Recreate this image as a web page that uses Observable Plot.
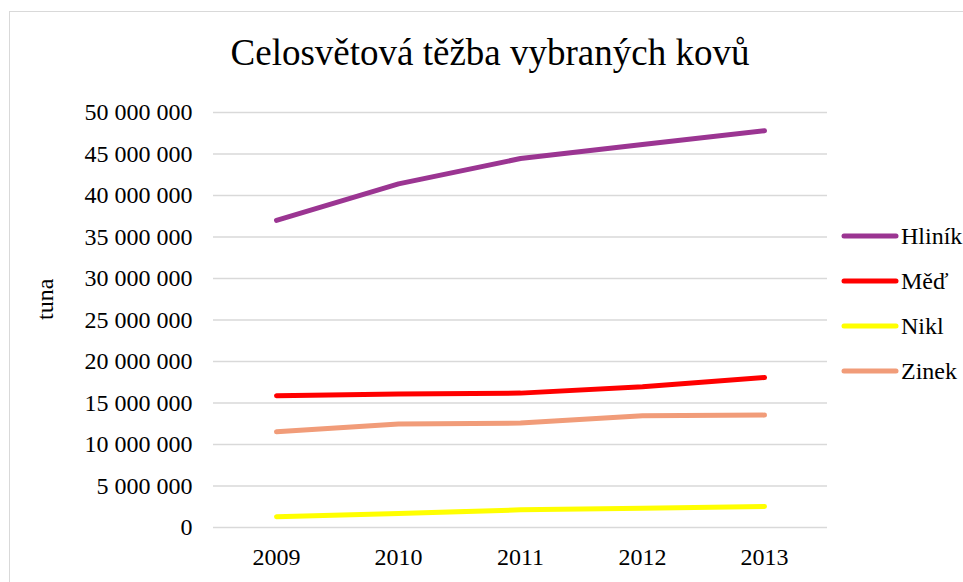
<!DOCTYPE html>
<html>
<head>
<meta charset="utf-8">
<script src="https://cdn.jsdelivr.net/npm/d3@7"></script>
<script src="https://cdn.jsdelivr.net/npm/@observablehq/plot@0.6"></script>
<style>
  html, body { margin: 0; padding: 0; background: #fff; }
  #wrap { position: relative; width: 963px; height: 582px; overflow: hidden; font-family: "Liberation Serif", "Times New Roman", serif; }
  #border { position: absolute; left: 9px; top: 11px; width: 1000px; height: 650px; border: 1.5px solid #d9d9d9; box-sizing: border-box; }
  #title { position: absolute; left: 0; width: 980px; top: 29px; text-align: center; font-family: "Liberation Serif", "Times New Roman", serif; font-size: 37px; line-height: 48px; color: #000; white-space: nowrap; }
  #chart { position: absolute; left: 0; top: 0; }
  #legend { position: absolute; left: 840px; top: 0; }
  .item { position: absolute; left: 0; height: 30px; display: flex; align-items: center; white-space: nowrap; font-family: "Liberation Serif", "Times New Roman", serif; font-size: 24px; color: #000; }
  .item span { font-family: "Liberation Serif", "Times New Roman", serif; }
  .item svg { display: block; margin-right: 1px; }
</style>
</head>
<body>
<div id="wrap">
  <div id="border"></div>
  <div id="chart"></div>
  <div id="title">Celosvětová těžba vybraných kovů</div>
  <div id="legend"></div>
</div>
<script>
const years = [2009, 2010, 2011, 2012, 2013];
const seriesNames = ["Hliník", "Měď", "Nikl", "Zinek"];
const hlinik = [37000000, 41400000, 44450000, 46150000, 47800000];
const med = [15870000, 16070000, 16190000, 16950000, 18070000];
const nikl = [1290000, 1690000, 2130000, 2310000, 2530000];
const zinek = [11530000, 12460000, 12580000, 13460000, 13540000];
const seriesColors = ["#9B3592", "#FF0000", "#FFFF00", "#F19C79"];
const yTicks = [0, 5000000, 10000000, 15000000, 20000000, 25000000, 30000000, 35000000, 40000000, 45000000, 50000000];
const yLabel = "tuna";

const seriesValues = [hlinik, med, nikl, zinek];
const data = [];
seriesNames.forEach((name, i) => {
  years.forEach((yr, j) => data.push({ series: name, year: yr, value: seriesValues[i][j] }));
});

const fmt = d => d3.format(",")(d).replace(/,/g, " ");

const chart = Plot.plot({
  width: 963,
  height: 582,
  marginLeft: 213,
  marginRight: 136,
  marginTop: 112,
  marginBottom: 55,
  style: { fontFamily: '"Liberation Serif", "Times New Roman", serif', fontSize: "24px", color: "#000", background: "transparent" },
  x: { type: "point", domain: years, padding: 0.5, label: null },
  y: { domain: [0, 50000000], label: null },
  color: { domain: seriesNames, range: seriesColors },
  marks: [
    Plot.gridY(yTicks, { stroke: "#d9d9d9", strokeOpacity: 1, strokeWidth: 1.5 }),
    Plot.axisY({ ticks: yTicks, tickSize: 0, tickPadding: 21, tickFormat: fmt, label: null }),
    Plot.axisX({ tickSize: 0, tickPadding: 20, tickFormat: d => String(d), label: null }),
    Plot.line(data, { x: "year", y: "value", z: "series", stroke: "series", strokeWidth: 5, strokeLinecap: "round", strokeLinejoin: "round" }),
    Plot.text([yLabel], { frameAnchor: "left", dx: -168, rotate: -90, fontSize: 24 })
  ]
});
document.getElementById("chart").appendChild(chart);

const legend = document.getElementById("legend");
seriesNames.forEach((name, i) => {
  const item = document.createElement("div");
  item.className = "item";
  item.style.top = (221 + i * 45) + "px";
  item.innerHTML = `<svg width="60" height="10"><line x1="4" x2="56" y1="5" y2="5" stroke="${seriesColors[i]}" stroke-width="5" stroke-linecap="round"/></svg><span>${name}</span>`;
  legend.appendChild(item);
});
</script>
</body>
</html>
